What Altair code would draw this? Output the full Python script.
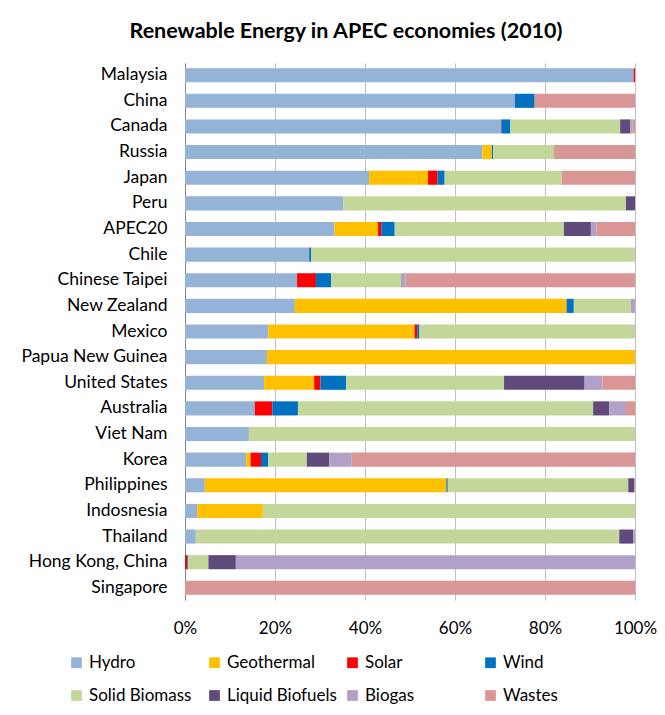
import altair as alt
import pandas as pd

countries = ["Malaysia", "China", "Canada", "Russia", "Japan", "Peru", "APEC20", "Chile",
             "Chinese Taipei", "New Zealand", "Mexico", "Papua New Guinea", "United States",
             "Australia", "Viet Nam", "Korea", "Philippines", "Indosnesia", "Thailand",
             "Hong Kong, China", "Singapore"]

sources = ["Hydro", "Geothermal", "Solar", "Wind", "Solid Biomass", "Liquid Biofuels", "Biogas", "Wastes"]
colors = ["#95B3D7", "#FFC000", "#FF0000", "#0070C0", "#C4D79B", "#604A7B", "#B1A0C7", "#DA9694"]

# shares (%) per source, in the order of `countries`
hydro =      [99.7, 73.3, 70.2, 66.1, 40.9, 35.2, 33.2, 27.6, 24.9, 24.4, 18.5, 18.2, 17.6, 15.5, 14.2, 13.6, 4.4, 2.7, 2.4, 0.0, 0.0]
geothermal = [0.0, 0.0, 0.0, 2.1, 13.1, 0.0, 9.7, 0.0, 0.0, 60.4, 32.5, 81.8, 11.1, 0.0, 0.0, 1.0, 53.7, 14.6, 0.0, 0.0, 0.0]
solar =      [0.3, 0.0, 0.1, 0.0, 2.1, 0.0, 0.7, 0.0, 4.2, 0.0, 0.6, 0.0, 1.4, 3.9, 0.0, 2.3, 0.0, 0.0, 0.0, 0.5, 0.0]
wind =       [0.0, 4.4, 2.0, 0.3, 1.6, 0.0, 3.0, 0.4, 3.4, 1.6, 0.5, 0.0, 5.7, 5.7, 0.0, 1.6, 0.3, 0.0, 0.0, 0.2, 0.0]
solid_bio =  [0.0, 0.0, 24.4, 13.5, 26.0, 62.8, 37.6, 71.9, 15.5, 12.7, 47.9, 0.0, 35.1, 65.6, 85.8, 8.6, 40.1, 82.7, 94.1, 4.5, 0.0]
liquid_bio = [0.0, 0.0, 2.2, 0.0, 0.0, 2.0, 6.0, 0.0, 0.0, 0.0, 0.0, 0.0, 17.9, 3.6, 0.0, 5.0, 1.3, 0.0, 3.1, 6.1, 0.0]
biogas =     [0.0, 0.0, 0.5, 0.0, 0.0, 0.0, 1.2, 0.0, 1.0, 0.9, 0.0, 0.0, 4.0, 3.7, 0.0, 5.0, 0.0, 0.0, 0.4, 88.7, 0.0]
wastes =     [0.0, 22.3, 0.6, 18.0, 16.3, 0.0, 8.6, 0.1, 51.0, 0.0, 0.0, 0.0, 7.2, 2.0, 0.0, 63.0, 0.2, 0.0, 0.0, 0.0, 100.0]

series = [hydro, geothermal, solar, wind, solid_bio, liquid_bio, biogas, wastes]

rows = []
for si, (src, vals) in enumerate(zip(sources, series)):
    for c, v in zip(countries, vals):
        rows.append({"Economy": c, "Source": src, "Share": v, "idx": si})
df = pd.DataFrame(rows)

FONT = "Lato"

chart = alt.Chart(df).mark_bar().encode(
    y=alt.Y("Economy:N", sort=countries, title=None,
            scale=alt.Scale(paddingInner=0.45, paddingOuter=0.2),
            axis=alt.Axis(ticks=False, labelFontSize=17.5, labelColor="#000000", labelPadding=18,
                          domainColor="#868686", grid=False, labelFont=FONT, labelLimit=300)),
    x=alt.X("Share:Q", stack="normalize", title=None,
            scale=alt.Scale(domain=[0, 1]),
            axis=alt.Axis(format="%", values=[0, 0.2, 0.4, 0.6, 0.8, 1.0], domain=False, ticks=False,
                          gridColor="#BFBFBF", gridWidth=1, labelFontSize=17, labelColor="#000000",
                          labelPadding=20, labelFont=FONT, labelFlush=False)),
    color=alt.Color("Source:N", sort=sources,
                    scale=alt.Scale(domain=sources, range=colors),
                    legend=alt.Legend(orient="none", legendX=-117, legendY=591, direction="horizontal",
                                      columns=4, title=None, symbolType="square", symbolSize=115,
                                      symbolStrokeWidth=0, labelFontSize=17, labelFont=FONT,
                                      labelColor="#000000", gridAlign="all", columnPadding=7,
                                      rowPadding=15, labelOffset=4, labelLimit=200)),
    order=alt.Order("idx:Q", sort="ascending"),
).properties(
    width=450,
    height=537,
    autosize=alt.AutoSizeParams(type="none"),
    padding={"left": 177, "top": 55, "right": 22, "bottom": 112},
    title=alt.TitleParams("Renewable Energy in APEC economies (2010)", fontSize=21.5, fontWeight="bold",
                          font=FONT, color="#000000", anchor="middle", dx=-64, offset=21),
).configure_view(stroke=None)

chart.save("out.html", embed_options={"renderer": "svg", "actions": False})
